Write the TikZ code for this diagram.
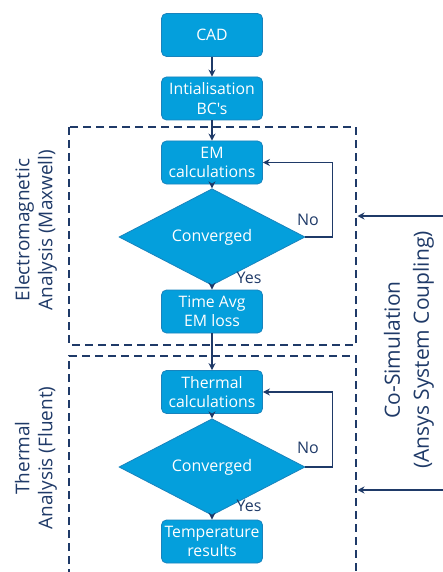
\documentclass[tikz,border=0pt]{standalone}
\usepackage{fontspec}
\setmainfont{Open Sans}[Ligatures=TeXOff]
\usetikzlibrary{shapes.geometric,arrows.meta}
\definecolor{boxfill}{HTML}{049FDC}
\definecolor{boxedge}{HTML}{1883BD}
\definecolor{navy}{HTML}{1F3A68}
\tikzset{
  stepbox/.style={draw=boxedge,fill=boxfill,rounded corners=5pt,line width=0.8pt,
    minimum width=101pt,minimum height=43pt,inner sep=1pt,align=center,
    text=white,font=\fontsize{15.8}{19.5}\selectfont},
  decide/.style={diamond,draw=boxedge,fill=boxfill,line width=0.8pt,
    minimum width=186pt,minimum height=64pt,inner sep=0pt,
    text=white,font=\fontsize{16}{19}\selectfont},
  flow/.style={draw=navy,line width=1.5pt,-{Stealth[length=7pt,width=7pt]}},
  region/.style={draw=navy,line width=1.8pt,dash pattern=on 8pt off 5pt},
  sidelabel/.style={text=navy,rotate=90,align=center},
  tag/.style={text=navy,font=\fontsize{16}{19}\selectfont}
}
\begin{document}
\begin{tikzpicture}[x=1pt,y=-1pt]
\useasboundingbox (0,0) rectangle (442,572);
% dashed regions
\draw[region] (69,127) rectangle (356,345);
\draw[region] (69,590) -- (69,356) -- (356,356) -- (356,590);
% nodes
\node[stepbox] (cad) at (212,35) {CAD};
\node[stepbox] (init) at (212,98.5) {Intialisation\\BC's};
\node[stepbox] (em) at (212,162.5) {EM\\calculations};
\node[decide] (c1) at (212,237) {Converged};
\node[stepbox] (tavg) at (212,311.5) {Time Avg\\EM loss};
\node[stepbox] (th) at (212,392) {Thermal\\calculations};
\node[decide] (c2) at (212,467) {Converged};
\node[stepbox] (temp) at (212,541.5) {Temperature\\results};
% connectors
\draw[flow] (cad) -- (init);
\draw[flow] (init) -- (em);
\draw[flow] (em) -- (c1);
\draw[flow] (c1) -- (tavg);
\draw[flow] (c1.east) -- ++(27,0) |- (em.east);
\draw[flow] (tavg) -- (th);
\draw[flow] (th) -- (c2);
\draw[flow] (c2) -- (temp);
\draw[flow] (c2.east) -- ++(27,0) |- (th.east);
% coupling arrows
\coordinate (r1) at (443,216);
\coordinate (e1) at (357.5,216);
\coordinate (r2) at (443,490);
\coordinate (e2) at (357.5,490);
\draw[flow] (r1) -- (e1);
\draw[flow] (r2) -- (e2);
% labels
\node[tag] (no1) at (308,220) {No};
\node[tag] (yes1) at (249,278) {Yes};
\node[tag] (no2) at (308,448) {No};
\node[tag] (yes2) at (249,506) {Yes};
\node[sidelabel,font=\fontsize{19}{23}\selectfont] (emlab) at (36,230) {Electromagnetic\\Analysis (Maxwell)};
\node[sidelabel,font=\fontsize{19}{23}\selectfont] (thlab) at (36,458) {Thermal\\Analysis (Fluent)};
\node[sidelabel,font=\fontsize{21}{29}\selectfont] (colab) at (409,350) {Co-Simulation\\(Ansys System Coupling)};
\end{tikzpicture}
\end{document}
